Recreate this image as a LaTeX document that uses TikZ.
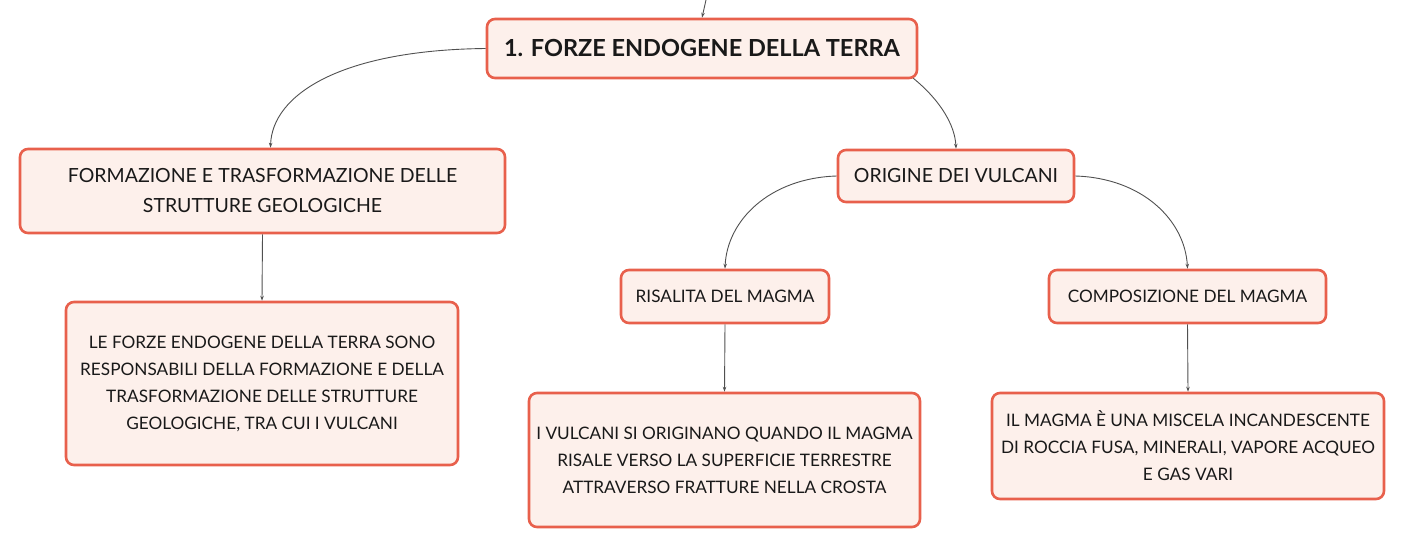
\documentclass[tikz,border=0pt]{standalone}
\usepackage{fontspec}
\setmainfont{Lato}
\usetikzlibrary{arrows.meta}
\definecolor{bord}{HTML}{E8604C}
\definecolor{bfill}{HTML}{FDF0EB}
\definecolor{lin}{HTML}{505050}
\begin{document}
\begin{tikzpicture}[x=1pt,y=-1pt,
  box/.style={draw=bord,fill=bfill,line width=2.6pt,rounded corners=8pt,align=center,inner sep=0pt,font=\fontsize{17.2}{27}\selectfont,text=black!90},
  mainbox/.style={box,font=\fontsize{19.5}{30}\selectfont},
  conn/.style={draw=lin,line width=0.9pt,-{Stealth[length=5pt,width=3.5pt]}}]
\useasboundingbox (0,0) rectangle (1405,549);
\node[box,minimum width=430pt,minimum height=59pt,font=\fontsize{23.5}{27}\bfseries\selectfont] (top) at (702,48.5) {1. FORZE ENDOGENE DELLA TERRA};
\node[mainbox,minimum width=485pt,minimum height=84pt] (form) at (262.5,191) {FORMAZIONE E TRASFORMAZIONE DELLE\\STRUTTURE GEOLOGICHE};
\node[box,minimum width=392pt,minimum height=163pt] (forze) at (262,383.5) {LE FORZE ENDOGENE DELLA TERRA SONO\\RESPONSABILI DELLA FORMAZIONE E DELLA\\TRASFORMAZIONE DELLE STRUTTURE\\GEOLOGICHE, TRA CUI I VULCANI};
\node[mainbox,minimum width=236pt,minimum height=52pt] (orig) at (956,176) {ORIGINE DEI VULCANI};
\node[box,minimum width=208pt,minimum height=53pt] (ris) at (725,296.5) {RISALITA DEL MAGMA};
\node[box,minimum width=277pt,minimum height=53pt] (comp) at (1187.5,296.5) {COMPOSIZIONE DEL MAGMA};
\node[box,minimum width=391pt,minimum height=134pt] (vulc) at (724.5,460) {I VULCANI SI ORIGINANO QUANDO IL MAGMA\\RISALE VERSO LA SUPERFICIE TERRESTRE\\ATTRAVERSO FRATTURE NELLA CROSTA};
\node[box,minimum width=392pt,minimum height=106pt] (magma) at (1188,446) {IL MAGMA È UNA MISCELA INCANDESCENTE\\DI ROCCIA FUSA, MINERALI, VAPORE ACQUEO\\E GAS VARI};
\coordinate (src) at (706,0);
\draw[conn] (src) -- (top.north);
\draw[conn] (top.west) .. controls (340,50) and (272,95) .. ([xshift=8pt]form.north);
\draw[conn] ([xshift=-5pt,yshift=1pt]top.south east) .. controls (940,100) and (955,125) .. (orig.north);
\draw[conn] (orig.west) .. controls (770,178) and (727,220) .. (ris.north);
\draw[conn] (orig.east) .. controls (1142,178) and (1185,220) .. (comp.north);
\draw[conn] (form.south) -- (forze.north);
\draw[conn] (ris.south) -- (vulc.north);
\draw[conn] (comp.south) -- (magma.north);
\end{tikzpicture}
\end{document}
